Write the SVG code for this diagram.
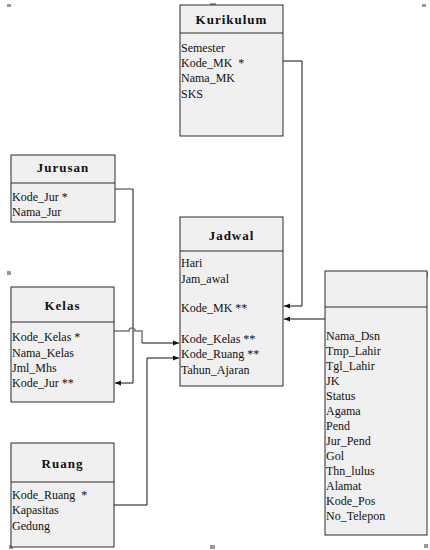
<svg xmlns="http://www.w3.org/2000/svg" width="430" height="550" viewBox="0 0 430 550">
<style>
.box{fill:#f0f0f0;stroke:#2a2a2a;stroke-width:1}
.div{stroke:#2a2a2a;stroke-width:1}
.hdr{font-family:"Liberation Serif",serif;font-size:13px;font-weight:bold;letter-spacing:1px;text-anchor:middle;fill:#111}
.att{font-family:"Liberation Serif",serif;font-size:12px;fill:#111;white-space:pre}
.con{fill:none;stroke:#111;stroke-width:1}
.gcon{fill:none;stroke:#777;stroke-width:1.5}
.hd{fill:#999}
</style>
<defs>
<marker id="ah" viewBox="0 0 10 10" refX="10" refY="5" markerWidth="6" markerHeight="6" orient="auto" markerUnits="userSpaceOnUse">
<path d="M0,1 L10,5 L0,9 z" fill="#111"/>
</marker>
</defs>
<rect width="430" height="550" fill="#fff"/>
<g id="handles">
<rect class="hd" x="7" y="4" width="4" height="3"/>
<rect class="hd" x="422" y="4" width="4" height="3"/>
<rect class="hd" x="210" y="3" width="6" height="3"/>
<rect class="hd" x="7" y="271" width="4" height="4"/>
<rect class="hd" x="210" y="545" width="5" height="4"/>
<rect class="hd" x="424" y="544" width="4" height="4"/>
<rect class="hd" x="9" y="545" width="4" height="4"/>
<rect class="hd" x="426" y="272" width="2" height="5"/>
</g>
<g id="connectors">
<path class="con" d="M283,61 H302 V306 H284" marker-end="url(#ah)"/>
<path class="con" d="M325,319 H284" marker-end="url(#ah)"/>
<path class="gcon" d="M115,189 H133"/>
<path class="con" d="M133,189 V383 H115" marker-end="url(#ah)"/>
<path class="gcon" d="M114,331 H129 A3,3 0 0 1 135,331 H142 V343"/>
<path class="con" d="M142,343 H179" marker-end="url(#ah)"/>
<path class="con" d="M114,505 H147 V358 H179" marker-end="url(#ah)"/>
</g>
<g id="kurikulum">
<rect class="box" x="180" y="5" width="103" height="131"/>
<line class="div" x1="180" y1="33" x2="283" y2="33"/>
<text class="hdr" x="231.5" y="24">Kurikulum</text>
<text class="att" x="181" y="52">Semester</text>
<text class="att" x="181" y="67" xml:space="preserve">Kode_MK  *</text>
<text class="att" x="181" y="82">Nama_MK</text>
<text class="att" x="181" y="98">SKS</text>
</g>
<g id="jurusan">
<rect class="box" x="11" y="155" width="104" height="67"/>
<line class="div" x1="11" y1="183" x2="115" y2="183"/>
<text class="hdr" x="63" y="172">Jurusan</text>
<text class="att" x="12" y="201">Kode_Jur *</text>
<text class="att" x="12" y="216">Nama_Jur</text>
</g>
<g id="kelas">
<rect class="box" x="11" y="287" width="103" height="115"/>
<line class="div" x1="11" y1="322" x2="114" y2="322"/>
<text class="hdr" x="62.5" y="310">Kelas</text>
<text class="att" x="12" y="341">Kode_Kelas *</text>
<text class="att" x="12" y="357">Nama_Kelas</text>
<text class="att" x="12" y="372">Jml_Mhs</text>
<text class="att" x="12" y="387">Kode_Jur **</text>
</g>
<g id="ruang">
<rect class="box" x="11" y="443" width="103" height="104"/>
<line class="div" x1="11" y1="482" x2="114" y2="482"/>
<text class="hdr" x="62.5" y="468">Ruang</text>
<text class="att" x="12" y="499" xml:space="preserve">Kode_Ruang  *</text>
<text class="att" x="12" y="514">Kapasitas</text>
<text class="att" x="12" y="530">Gedung</text>
</g>
<g id="jadwal">
<rect class="box" x="180" y="217" width="103" height="169"/>
<line class="div" x1="180" y1="251" x2="283" y2="251"/>
<text class="hdr" x="231.5" y="240">Jadwal</text>
<text class="att" x="181" y="267">Hari</text>
<text class="att" x="181" y="283">Jam_awal</text>
<text class="att" x="181" y="312">Kode_MK **</text>
<text class="att" x="181" y="343">Kode_Kelas **</text>
<text class="att" x="181" y="358">Kode_Ruang **</text>
<text class="att" x="181" y="374">Tahun_Ajaran</text>
</g>
<g id="dosen">
<rect class="box" x="325" y="271" width="102" height="264"/>
<line class="div" x1="325" y1="307" x2="427" y2="307"/>
<text class="att" x="326" y="340">Nama_Dsn</text>
<text class="att" x="326" y="355">Tmp_Lahir</text>
<text class="att" x="326" y="370">Tgl_Lahir</text>
<text class="att" x="326" y="385">JK</text>
<text class="att" x="326" y="400">Status</text>
<text class="att" x="326" y="415">Agama</text>
<text class="att" x="326" y="430">Pend</text>
<text class="att" x="326" y="445">Jur_Pend</text>
<text class="att" x="326" y="460">Gol</text>
<text class="att" x="326" y="475">Thn_lulus</text>
<text class="att" x="326" y="490">Alamat</text>
<text class="att" x="326" y="505">Kode_Pos</text>
<text class="att" x="326" y="520">No_Telepon</text>
</g>
</svg>
